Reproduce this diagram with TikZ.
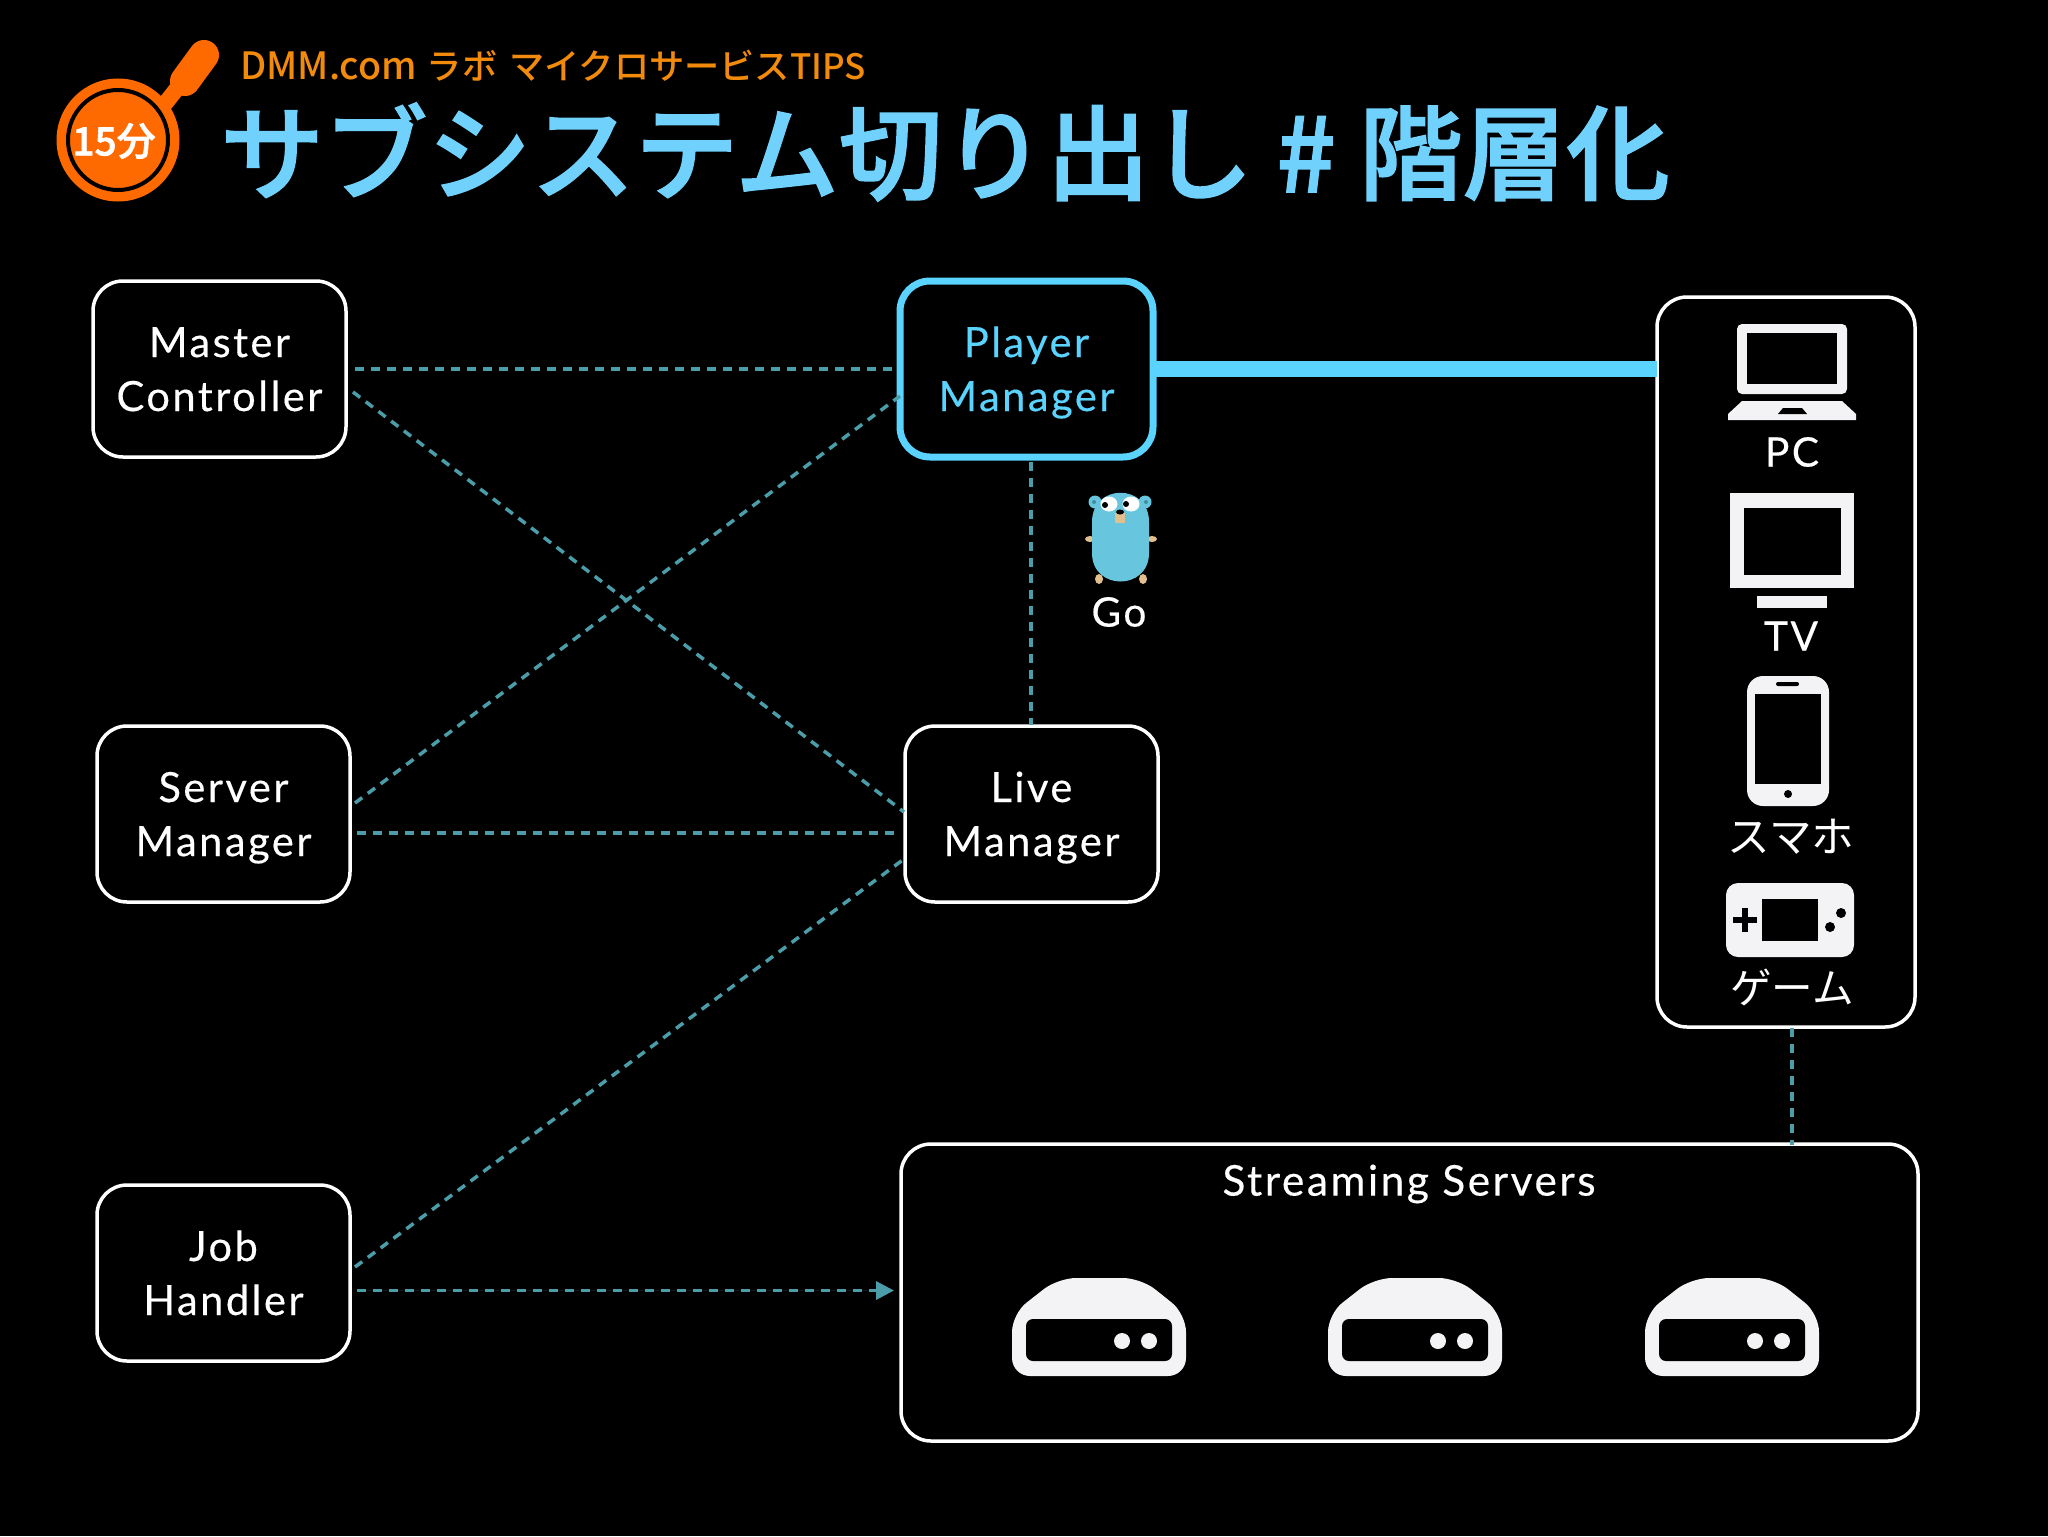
\documentclass[tikz,border=0pt]{standalone}
\usepackage{fontspec}
\usetikzlibrary{calc,arrows.meta}
\setmainfont{Lato}[LetterSpace=6,FakeBold=0.35]
\newfontfamily\cjk{Noto Sans CJK JP Medium}
\newfontfamily\cjkt{Noto Sans CJK JP Medium}[FakeBold=1.5]
\newfontfamily\cjkl{Noto Sans CJK JP}
\definecolor{cyanline}{HTML}{5AD3FF}
\definecolor{titleblue}{HTML}{70D2FC}
\definecolor{orangetxt}{HTML}{F28A0C}
\definecolor{panorange}{HTML}{FF6A00}
\definecolor{dashcol}{HTML}{4B9DA9}
\definecolor{iconw}{HTML}{F3F2F4}
\definecolor{gopher}{HTML}{67C6DD}
\definecolor{gopherear}{HTML}{3F8FA0}
\definecolor{gopherfoot}{HTML}{E2C08E}
\newcommand{\twol}[2]{\raisebox{0pt}[15pt][0pt]{#1}\\\raisebox{0pt}[15pt][0pt]{#2}}
\tikzset{
  box/.style={draw=white,line width=1.75pt,rounded corners=15pt,fill=black,inner sep=0pt,outer sep=0pt,
    minimum width=126.5pt,minimum height=88pt,text=white,align=center,
    font=\fontsize{20.8}{27}\selectfont},
  pbox/.style={box,draw=cyanline,line width=3.5pt,text=cyanline},
  wide/.style={draw=white,line width=1.75pt,rounded corners=15pt,fill=black,inner sep=0pt,outer sep=0pt},
  link/.style={draw=dashcol,line width=1.75pt,dash pattern=on 4.5pt off 3.5pt},
  lbl/.style={text=white,inner sep=0pt,font=\fontsize{20.3}{24}\selectfont},
  ic/.style={fill=iconw,draw=none},
  hole/.style={fill=black,draw=none}
}
\newcommand{\diskicon}[1]{
  \begin{scope}[xshift=#1*0.5pt]
    \fill[iconw,rounded corners=9pt] (1058,1278) -- (1141,1278) -- (1186,1314) -- (1186,1376) -- (1012,1376) -- (1012,1314) -- cycle;
    \fill[black,rounded corners=3.5pt] (1026,1319) rectangle (1172,1361);
    \fill[iconw] (1122,1341) circle (8);
    \fill[iconw] (1149,1341) circle (8);
  \end{scope}
}
\begin{document}
\begin{tikzpicture}[x=0.5pt,y=-0.5pt]
\useasboundingbox (0,0) rectangle (2048,1536);
\fill[black] (0,0) rectangle (2048,1536);

% logo
\draw[panorange,line width=8pt,line cap=round] (183,81) -- (160,110);
\draw[panorange,line width=15pt,line cap=round] (204,55) -- (185,81);
\fill[panorange] (118,140) circle (61.5);
\draw[black,line width=2pt] (118,140) circle (50);
\node[text=white,inner sep=0pt,font=\cjkt\fontsize{19.5}{22}\selectfont] (timer) at (114,141) {15分};

% title
\node[anchor=west,inner sep=0pt,text=orangetxt,font=\cjk\fontsize{17.6}{20}\selectfont] (sub) at (240,66) {{\fontsize{18.8}{20}\selectfont DMM.com}\hspace{5pt}ラボ\hspace{6pt}マイクロサービス{\fontsize{17.5}{20}\selectfont TIPS}};
\node[anchor=west,inner sep=0pt,text=titleblue,font=\cjkt\fontsize{51.8}{56}\selectfont] (title) at (220,152) {サブシステム切り出し \# 階層化};

% boxes
\node[box] (master) at (219.5,369) {\twol{Master}{Controller}};
\node[pbox] (player) at (1026.5,369) {\twol{Player}{Manager}};
\node[box] (server) at (223.5,814) {\twol{Server}{Manager}};
\node[box] (live) at (1031.5,814) {\twol{Live}{Manager}};
\node[box] (job) at (223.5,1273) {\twol{Job}{Handler}};
\node[wide,minimum width=129pt,minimum height=365pt] (devices) at (1786,662) {};
\node[wide,minimum width=508.5pt,minimum height=148.5pt] (stream) at (1409.5,1292.5) {};

% connectors
\draw[link] ([shift={(9,0)}]master.east) -- ([shift={(-6,0)}]player.west);
\draw[link] ([shift={(7,23)}]master.east) -- ([shift={(-1,-2)}]live.west);
\draw[link] ([shift={(5,-11)}]server.east) -- ([shift={(0,27)}]player.west);
\draw[link] ([shift={(7,19)}]server.east) -- ([shift={(-4,19)}]live.west);
\draw[link] ([shift={(5,-6)}]job.east) -- ([shift={(-1,45)}]live.west);
\draw[link,-{Triangle[length=9pt,width=9pt]},fill=dashcol] ([shift={(7,17.5)}]job.east) -- ([shift={(-7,-2)}]stream.west);
\draw[link] ([shift={(4.5,5)}]player.south) -- ([shift={(-0.5,-1)}]live.north);
\draw[link] ([shift={(6,1)}]devices.south) -- ([shift={(6,1)}]devices.south |- stream.north);
\draw[cyanline,line width=8pt] (player.east) -- (player.east -| devices.west);

% gopher
\fill[gopher] (1095,502) circle (6.5);
\fill[gopher] (1145,502) circle (6.5);
\fill[gopherear] (1094,502) circle (2);
\fill[gopherear] (1146,502) circle (2);
\fill[gopherfoot] (1090,539) ellipse (5 and 3);
\fill[gopherfoot] (1152,539) ellipse (5 and 3);
\fill[gopherfoot] (1099,579) ellipse (4 and 5);
\fill[gopherfoot] (1143,579) ellipse (4 and 5);
\fill[gopher] (1092,522) .. controls (1092,483) and (1149,483) .. (1149,522) -- (1149,553) .. controls (1149,591) and (1092,591) .. (1092,553) -- cycle;
\fill[white] (1109,504) ellipse (8.5 and 7.5);
\fill[white] (1131,504) ellipse (8.5 and 7.5);
\fill[black] (1105,505) circle (3);
\fill[black] (1126,504) circle (3);
\fill[gopherfoot] (1115,513) rectangle (1125,523);
\fill[black] (1120,512) ellipse (4 and 2.5);
\node[lbl] (go) at (1119,612) {Go};

% PC
\fill[ic,rounded corners=2.5pt] (1737,324) rectangle (1847,394);
\fill[hole] (1747,333) rectangle (1837,384);
\fill[ic] (1742,401) -- (1842,401) -- (1856,414) -- (1856,420) -- (1728,420) -- (1728,414) -- cycle;
\fill[hole] (1783,408) -- (1802,408) -- (1807,414) -- (1778,414) -- cycle;
\node[lbl] (pc) at (1792,452) {PC};

% TV
\fill[ic] (1730,493) rectangle (1854,588);
\fill[hole] (1744,508) rectangle (1841,575);
\fill[ic] (1757,596) rectangle (1827,608);
\node[lbl] (tv) at (1791,636) {TV};

% phone
\fill[ic,rounded corners=8pt] (1747,676) rectangle (1829,806);
\fill[hole] (1755,694) rectangle (1821,784);
\fill[hole,rounded corners=1pt] (1776,682) rectangle (1799,686);
\fill[hole] (1788,794) circle (4);
\node[lbl,font=\cjkl\fontsize{21.3}{24}\selectfont] (sp) at (1791,837) {スマホ};

% game
\fill[ic,rounded corners=6pt] (1726,883) rectangle (1854,957);
\fill[hole] (1762,899) rectangle (1818,941);
\fill[hole] (1733,917) rectangle (1757,923);
\fill[hole] (1742,908) rectangle (1748,932);
\fill[hole] (1841,913) circle (5);
\fill[hole] (1830,927) circle (5);
\node[lbl,font=\cjkl\fontsize{20.8}{24}\selectfont] (gm) at (1792,987) {ゲーム};

% streaming
\node[lbl,font=\fontsize{21.2}{24}\selectfont] (stl) at (1409,1184) {Streaming Servers};
\diskicon{0}
\diskicon{316}
\diskicon{633}
\end{tikzpicture}
\end{document}
